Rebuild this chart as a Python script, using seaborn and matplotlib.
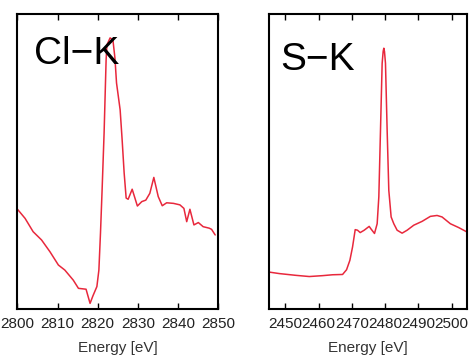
import matplotlib
matplotlib.use("Agg")
import matplotlib.pyplot as plt
import seaborn as sns
import pandas as pd

# Cl-K spectrum (normalised intensity)
cl_energy = [2800.0, 2801.9, 2803.9, 2806.0, 2808.1, 2810.2, 2811.8, 2813.9, 2815.2,
             2817.1, 2818.1, 2818.8, 2819.8, 2820.3, 2820.7, 2821.1, 2821.6, 2822.1,
             2822.3, 2823.1, 2823.8, 2824.3, 2824.7, 2825.6, 2826.1, 2826.6, 2827.1,
             2827.6, 2828.6, 2829.9, 2831.0, 2832.0, 2833.0, 2834.0, 2835.1, 2836.1,
             2837.2, 2838.9, 2840.5, 2841.5, 2842.2, 2843.0, 2844.0, 2845.1, 2846.3,
             2847.8, 2848.4, 2849.3]
cl_intensity = [0.338, 0.307, 0.262, 0.234, 0.194, 0.149, 0.132, 0.098, 0.070,
                0.067, 0.019, 0.044, 0.076, 0.132, 0.258, 0.403, 0.597, 0.844,
                0.895, 0.919, 0.912, 0.851, 0.766, 0.675, 0.573, 0.461, 0.376,
                0.372, 0.406, 0.349, 0.364, 0.369, 0.392, 0.446, 0.381, 0.350,
                0.360, 0.358, 0.353, 0.341, 0.296, 0.338, 0.285, 0.293, 0.279,
                0.274, 0.270, 0.251]

# S-K spectrum (normalised intensity)
s_energy = [2445.2, 2448.2, 2453.2, 2457.2, 2461.2, 2464.2, 2467.2, 2468.4, 2469.4,
            2470.2, 2471.0, 2471.7, 2472.5, 2473.7, 2475.2, 2475.7, 2476.8, 2477.6,
            2478.1, 2478.6, 2479.1, 2479.4, 2479.6, 2479.8, 2480.1, 2480.6, 2481.1,
            2481.8, 2482.6, 2483.6, 2485.1, 2486.6, 2488.6, 2491.1, 2493.6, 2495.6,
            2497.1, 2499.6, 2502.1, 2504.6]
s_intensity = [0.125, 0.120, 0.114, 0.110, 0.113, 0.116, 0.117, 0.133, 0.165,
               0.210, 0.269, 0.267, 0.259, 0.267, 0.280, 0.272, 0.256, 0.289,
               0.380, 0.606, 0.833, 0.873, 0.884, 0.873, 0.833, 0.606, 0.402,
               0.312, 0.289, 0.267, 0.257, 0.267, 0.284, 0.297, 0.314, 0.317,
               0.312, 0.289, 0.276, 0.261]

cl_ticks = [2800, 2810, 2820, 2830, 2840, 2850]
s_ticks = [2450, 2460, 2470, 2480, 2490, 2500]
panel_labels = ["Cl\u2212K", "S\u2212K"]
xlabel_text = "Energy [eV]"

sns.set_theme(style="white")
plt.rcParams["font.family"] = ["Liberation Sans", "DejaVu Sans"]

fig = plt.figure(figsize=(4.70, 3.57), dpi=100)
ax1 = fig.add_axes([0.0372, 0.1345, 0.4266, 0.8263])
ax2 = fig.add_axes([0.5717, 0.1345, 0.4219, 0.8263])

line_color = "#e8283c"

df_cl = pd.DataFrame({"E": cl_energy, "I": cl_intensity})
df_s = pd.DataFrame({"E": s_energy, "I": s_intensity})

sns.lineplot(data=df_cl, x="E", y="I", ax=ax1, color=line_color, linewidth=1.1,
             estimator=None)
sns.lineplot(data=df_s, x="E", y="I", ax=ax2, color=line_color, linewidth=1.1,
             estimator=None)

ax1.set_xlim(2800, 2850)
ax2.set_xlim(2445.0, 2504.6)

for ax, ticks, lab, pos in [(ax1, cl_ticks, panel_labels[0], (0.082, 0.83)),
                            (ax2, s_ticks, panel_labels[1], (0.057, 0.81))]:
    ax.set_ylim(0, 1)
    ax.set_xticks(ticks)
    ax.set_xticklabels([str(t) for t in ticks])
    ax.set_yticks([])
    ax.set_ylabel("")
    ax.set_xlabel(xlabel_text, fontsize=11, color="#333333", labelpad=7)
    ax.tick_params(axis="x", direction="in", length=4, width=1.0, top=True,
                   bottom=True, labelsize=11, pad=6, colors="black",
                   labelcolor="#222222")
    for sp in ax.spines.values():
        sp.set_visible(True)
        sp.set_color("black")
        sp.set_linewidth(1.5)
    ax.text(pos[0], pos[1], lab, transform=ax.transAxes, fontsize=28,
            ha="left", va="baseline", color="black", zorder=5)

fig.savefig("out.png", dpi=100)
